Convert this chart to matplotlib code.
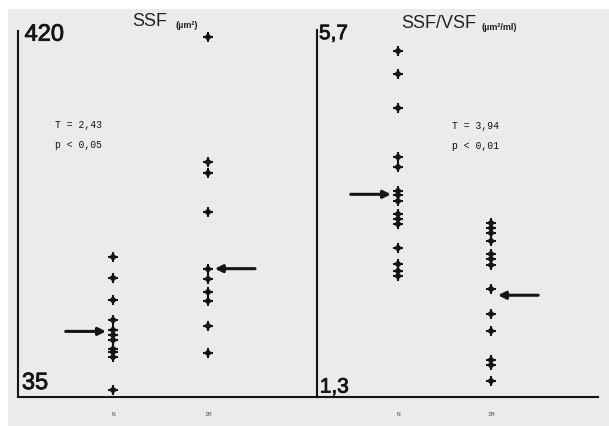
import matplotlib
matplotlib.use("Agg")
import matplotlib.pyplot as plt
from matplotlib.patches import Rectangle
import matplotlib.patheffects as pe

# ---- data ----
groups = ["N", "IM"]
ssf_n = [182, 160, 137, 116, 105, 100, 95, 86, 82, 77, 42]
ssf_im = [414, 282, 271, 230, 170, 159, 145, 136, 110, 81]
ssf_means = [104, 170]
ssf_range = [35, 420]
ssf_range_labels = ["35", "420"]
ssf_stats = ["T = 2,43", "p < 0,05"]

ratio_n = [5.45, 5.17, 4.77, 4.18, 4.06, 3.77, 3.72, 3.65, 3.49, 3.43, 3.37,
           3.09, 2.89, 2.81, 2.75]
ratio_im = [3.39, 3.33, 3.27, 3.17, 3.01, 2.95, 2.88, 2.59, 2.30, 2.09, 1.74,
            1.68, 1.49]
ratio_means = [3.73, 2.52]
ratio_range = [1.3, 5.7]
ratio_range_labels = ["1,3", "5,7"]
ratio_stats = ["T = 3,94", "p < 0,01"]

W, H = 609, 427
fig = plt.figure(figsize=(W / 100, H / 100), dpi=100)
fig.patch.set_facecolor("white")
fig.patches.append(Rectangle((8 / W, 0), 1, (H - 10) / H, transform=fig.transFigure,
                             facecolor="#ebebeb", edgecolor="none", zorder=-10))

INK = "#151515"
sans = ["Liberation Sans", "DejaVu Sans"]
mono = ["Liberation Mono", "DejaVu Sans Mono"]
bolden = [pe.withStroke(linewidth=0.6, foreground=INK)]


def px_axes(x0, x1, y0, y1):
    return fig.add_axes([x0 / W, (H - y1) / H, (x1 - x0) / W, (y1 - y0) / H])


def style(ax, ylim, xlim):
    ax.set_facecolor("none")
    ax.set_ylim(*ylim)
    ax.set_xlim(*xlim)
    for s in ["top", "right"]:
        ax.spines[s].set_visible(False)
    for s in ["left", "bottom"]:
        ax.spines[s].set_linewidth(1.5)
        ax.spines[s].set_color(INK)
    ax.set_yticks([])
    ax.set_xticks([1, 2])
    ax.set_xticklabels(groups, fontsize=4.5, color="#555555", family=mono)
    ax.tick_params(axis="x", length=0, pad=10)


def column(ax, pos, vals):
    xs = [pos] * len(vals)
    ax.plot(xs, vals, linestyle="none", marker="+", markersize=6.5,
            color=INK, markeredgewidth=1.5, clip_on=False)
    ax.plot(xs, vals, linestyle="none", marker="D", markersize=4.2,
            color=INK, markeredgewidth=0, clip_on=False)


def arrow(ax, pos, val, side):
    ax.annotate("", xy=(pos, val), xytext=(side * 34, 0), textcoords="offset points",
                arrowprops=dict(arrowstyle="-|>", color=INK, lw=2.2,
                                shrinkA=0, shrinkB=5, mutation_scale=11))


def label(ax, x, y, s, size, fam=sans, effects=None):
    ax.text(x, y, s, transform=ax.transAxes, fontsize=size, family=fam, color=INK,
            va="center", ha="left", path_effects=effects)


# left panel
ax1 = px_axes(18, 317, 32, 398)
style(ax1, ssf_range, (0.0, 3.15))
column(ax1, 1, ssf_n)
column(ax1, 2, ssf_im)
arrow(ax1, 1, ssf_means[0], -1)
arrow(ax1, 2, ssf_means[1], +1)
label(ax1, 0.013, 0.038, ssf_range_labels[0], 17, effects=bolden)
label(ax1, 0.022, 0.99, ssf_range_labels[1], 17, effects=bolden)
label(ax1, 0.125, 0.745, ssf_stats[0], 7, mono)
label(ax1, 0.125, 0.69, ssf_stats[1], 7, mono)

# right panel
ax2 = px_axes(317, 598, 31, 398)
style(ax2, ratio_range, (0.13, 3.15))
column(ax2, 1, ratio_n)
column(ax2, 2, ratio_im)
arrow(ax2, 1, ratio_means[0], -1)
arrow(ax2, 2, ratio_means[1], +1)
label(ax2, 0.01, 0.027, ratio_range_labels[0], 15, effects=bolden)
label(ax2, 0.007, 0.99, ratio_range_labels[1], 15, effects=bolden)
label(ax2, 0.48, 0.74, ratio_stats[0], 7, mono)
label(ax2, 0.48, 0.686, ratio_stats[1], 7, mono)

# titles
fig.text(132 / W, 1 - 22 / H, "SSF", fontsize=13, family=sans, color="#222222",
         va="center", ha="left")
fig.text(175 / W, 1 - 26 / H, "(µm²)", fontsize=6.5, family=sans, weight="bold",
         color="#222222", va="center", ha="left")
fig.text(401 / W, 1 - 23 / H, "SSF/VSF", fontsize=13, family=sans, color="#222222",
         va="center", ha="left")
fig.text(482 / W, 1 - 28 / H, "(µm²/ml)", fontsize=6.5, family=sans, weight="bold",
         color="#222222", va="center", ha="left")

fig.savefig("out.png", dpi=100, facecolor=fig.get_facecolor())
